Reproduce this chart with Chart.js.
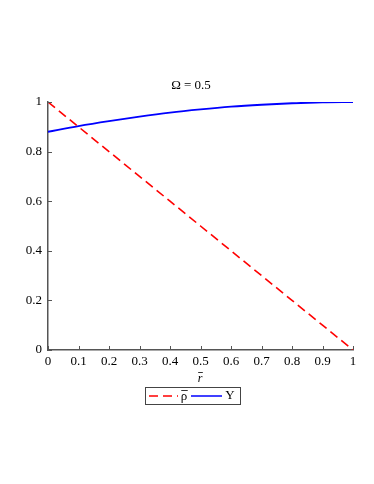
<!DOCTYPE html>
<html>
<head>
<meta charset="utf-8">
<script src="https://cdn.jsdelivr.net/npm/chart.js@4"></script>
<style>
  html, body { margin: 0; padding: 0; background: #fff; }
  canvas { display: block; }
</style>
</head>
<body>
<canvas id="c" width="374" height="484"></canvas>
<script>
  // r-bar positions and the two curves
  const rVals = [0, 0.1, 0.2, 0.3, 0.4, 0.5, 0.6, 0.7, 0.8, 0.9, 1];
  const rhoVals = [1, 0.9, 0.8, 0.7, 0.6, 0.5, 0.4, 0.3, 0.2, 0.1, 0];
  const yVals = [0.88, 0.903, 0.923, 0.941, 0.957, 0.97, 0.981, 0.989, 0.995, 0.999, 1.0];
  const labels = ["ρ", "Y"];
  const colors = ["#ff0000", "#0000ff"];
  const titleText = "Ω = 0.5";
  const FONT = "Liberation Serif";

  // text with a bar drawn over it (ρ̄, r̄)
  function barText(ctx, txt, x, y) {
    ctx.fillText(txt, x, y);
    const w = ctx.measureText(txt).width;
    ctx.save();
    ctx.strokeStyle = "#000";
    ctx.lineWidth = 0.8;
    ctx.beginPath(); ctx.moveTo(x - w / 2 + 0.5, y - 6.5); ctx.lineTo(x + w / 2 + 0.5, y - 6.5); ctx.stroke();
    ctx.restore();
  }

  const decor = {
    id: "decor",
    afterDraw(chart) {
      const ctx = chart.ctx, a = chart.chartArea;
      const xs = chart.scales.x, ys = chart.scales.y;
      ctx.save();
      // inner tick marks
      ctx.strokeStyle = "#555";
      ctx.lineWidth = 1;
      xs.ticks.forEach((t) => {
        const px = Math.round(xs.getPixelForValue(t.value)) + 0.5;
        ctx.beginPath(); ctx.moveTo(px, a.bottom); ctx.lineTo(px, a.bottom - 4); ctx.stroke();
      });
      ys.ticks.forEach((t) => {
        const py = Math.round(ys.getPixelForValue(t.value)) + 0.5;
        ctx.beginPath(); ctx.moveTo(a.left, py); ctx.lineTo(a.left + 4, py); ctx.stroke();
      });
      // title
      ctx.fillStyle = "#000";
      ctx.font = "13px '" + FONT + "'";
      ctx.textAlign = "center";
      ctx.textBaseline = "middle";
      ctx.fillText(titleText, 191, 86);
      // x axis title
      ctx.font = "italic 12px '" + FONT + "'";
      barText(ctx, "r", 200, 379);
      // legend box
      ctx.strokeStyle = "#444";
      ctx.lineWidth = 1;
      ctx.strokeRect(145.5, 387.5, 95, 17);
      const ly = 396;
      ctx.lineWidth = 1.5;
      ctx.strokeStyle = colors[0];
      ctx.setLineDash([9, 5]);
      ctx.beginPath(); ctx.moveTo(149, ly); ctx.lineTo(178, ly); ctx.stroke();
      ctx.setLineDash([]);
      ctx.strokeStyle = colors[1];
      ctx.beginPath(); ctx.moveTo(191, ly); ctx.lineTo(222, ly); ctx.stroke();
      ctx.font = "13px '" + FONT + "'";
      ctx.fillStyle = "#000";
      barText(ctx, labels[0], 184, ly + 1);
      ctx.fillText(labels[1], 230, ly);
      ctx.restore();
    }
  };

  new Chart(document.getElementById("c"), {
    type: "line",
    data: {
      datasets: [
        { label: labels[0], data: rVals.map((r, i) => ({ x: r, y: rhoVals[i] })), borderColor: colors[0], borderWidth: 1.6, borderDash: [9, 5], pointRadius: 0, tension: 0 },
        { label: labels[1], data: rVals.map((r, i) => ({ x: r, y: yVals[i] })), borderColor: colors[1], borderWidth: 1.8, pointRadius: 0, cubicInterpolationMode: "monotone" },
      ],
    },
    options: {
      responsive: false,
      animation: false,
      layout: { padding: { left: 0, top: 102, right: 21, bottom: 0 } },
      plugins: { legend: { display: false }, title: { display: false }, tooltip: { enabled: false } },
      scales: {
        x: {
          type: "linear", min: 0, max: 1,
          afterFit: (s) => { s.height = 134; },
          ticks: { stepSize: 0.1, color: "#000", font: { family: FONT, size: 13 }, padding: 4, maxRotation: 0, autoSkip: false,
            callback: (v) => String(Math.round(v * 10) / 10) },
          grid: { display: true, drawOnChartArea: false, drawTicks: false },
          border: { color: "#555", width: 1.5 },
        },
        y: {
          min: 0, max: 1,
          afterFit: (s) => { s.width = 48; },
          ticks: { stepSize: 0.2, color: "#000", font: { family: FONT, size: 13 }, padding: 6,
            callback: (v) => String(Math.round(v * 10) / 10) },
          grid: { display: true, drawOnChartArea: false, drawTicks: false },
          border: { color: "#555", width: 1.5 },
        },
      },
    },
    plugins: [decor],
  });
</script>
</body>
</html>
